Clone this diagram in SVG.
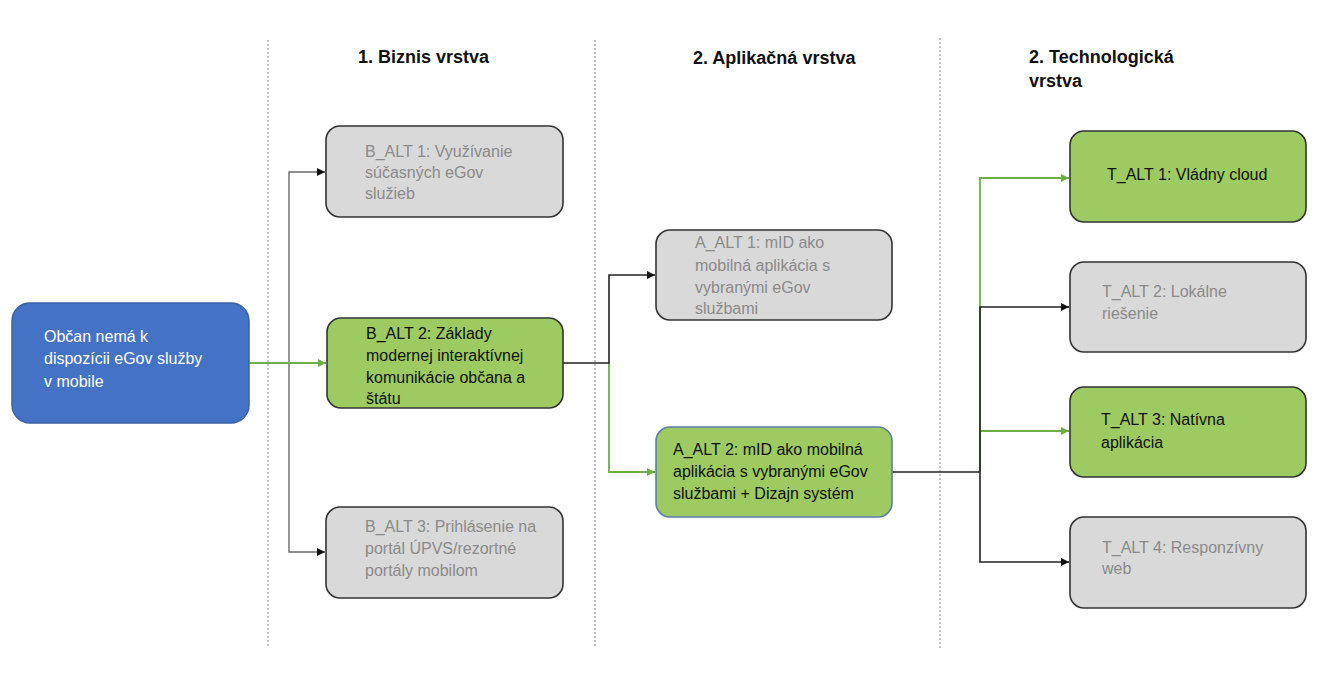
<svg xmlns="http://www.w3.org/2000/svg" width="1335" height="694" viewBox="0 0 1335 694">
  <style>
    .sep { stroke: #9a9a9a; stroke-width: 1.2; stroke-dasharray: 2 2; fill: none; }
    .hdr { font-family: "Liberation Sans", Arial, sans-serif; font-weight: bold; font-size: 18px; fill: #111; }
    .box { stroke: #333; stroke-width: 1.6; }
    .grey { fill: #d9d9d9; }
    .green { fill: #9dcb62; }
    .blue { fill: #4472c4; stroke: #3a62a8; stroke-width: 1.5; }
    .txt { font-family: "Liberation Sans", Arial, sans-serif; font-size: 16px; }
    .t-grey { fill: #8a8a8a; }
    .t-dark { fill: #111; }
    .t-white { fill: #fff; }
    .ln-grey { stroke: #6b6b6b; stroke-width: 1.4; fill: none; }
    .ln-dark { stroke: #222; stroke-width: 1.6; fill: none; }
    .ln-green { stroke: #70ad47; stroke-width: 1.8; fill: none; }
  </style>
  <defs>
    <marker id="arrow-dark" viewBox="0 0 10 10" refX="10" refY="5" markerWidth="8" markerHeight="8" markerUnits="userSpaceOnUse" orient="auto">
      <path d="M0,0 L10,5 L0,10 Z" fill="#111"/>
    </marker>
    <marker id="arrow-green" viewBox="0 0 10 10" refX="10" refY="5" markerWidth="8" markerHeight="8" markerUnits="userSpaceOnUse" orient="auto">
      <path d="M0,0 L10,5 L0,10 Z" fill="#70ad47"/>
    </marker>
  </defs>

  <rect width="1335" height="694" fill="#fff"/>

  <!-- layer separators -->
  <g id="separators">
    <line class="sep" x1="268" y1="40" x2="268" y2="648"/>
    <line class="sep" x1="595" y1="40" x2="595" y2="648"/>
    <line class="sep" x1="940" y1="38" x2="940" y2="648"/>
  </g>

  <!-- layer headers -->
  <g id="headers">
    <text class="hdr" x="358" y="63">1. Biznis vrstva</text>
    <text class="hdr" x="693" y="64">2. Aplikačná vrstva</text>
    <text class="hdr" x="1029" y="63">2. Technologická</text>
    <text class="hdr" x="1029" y="87">vrstva</text>
  </g>

  <!-- connectors -->
  <g id="connectors">
    <!-- problem to business alternatives -->
    <polyline class="ln-grey" points="289,363 289,172 325,172" marker-end="url(#arrow-dark)"/>
    <polyline class="ln-grey" points="289,363 289,552 325,552" marker-end="url(#arrow-dark)"/>
    <line class="ln-green" x1="249" y1="363" x2="326" y2="363" marker-end="url(#arrow-green)"/>

    <!-- business to application alternatives -->
    <polyline class="ln-green" points="609,363 609,472 655,472" marker-end="url(#arrow-green)"/>
    <polyline class="ln-dark" points="563,363 609,363 609,275 655,275" marker-end="url(#arrow-dark)"/>

    <!-- application to technology alternatives -->
    <polyline class="ln-green" points="980,472 980,178 1069,178" marker-end="url(#arrow-green)"/>
    <polyline class="ln-green" points="980,472 980,431 1069,431" marker-end="url(#arrow-green)"/>
    <polyline class="ln-dark" points="980,472 980,307 1069,307" marker-end="url(#arrow-dark)"/>
    <polyline class="ln-dark" points="980,472 980,562 1069,562" marker-end="url(#arrow-dark)"/>
    <line class="ln-dark" x1="892" y1="472" x2="980" y2="472"/>
  </g>

  <!-- problem statement -->
  <g id="problem">
    <rect class="blue" x="12" y="303" width="237" height="120" rx="18"/>
    <text class="txt t-white" x="44" y="342">Občan nemá k</text>
    <text class="txt t-white" x="44" y="364">dispozícii eGov služby</text>
    <text class="txt t-white" x="44" y="387">v mobile</text>
  </g>

  <!-- business layer -->
  <g id="b-alt-1">
    <rect class="box grey" x="326" y="126" width="237" height="91" rx="14"/>
    <text class="txt t-grey" x="365" y="157">B_ALT 1: Využívanie</text>
    <text class="txt t-grey" x="365" y="178">súčasných eGov</text>
    <text class="txt t-grey" x="365" y="199">služieb</text>
  </g>
  <g id="b-alt-2">
    <rect class="box green" x="327" y="318" width="236" height="90" rx="14"/>
    <text class="txt t-dark" x="366" y="339">B_ALT 2: Základy</text>
    <text class="txt t-dark" x="366" y="361">modernej interaktívnej</text>
    <text class="txt t-dark" x="366" y="383">komunikácie občana a</text>
    <text class="txt t-dark" x="366" y="404">štátu</text>
  </g>
  <g id="b-alt-3">
    <rect class="box grey" x="326" y="507" width="237" height="91" rx="14"/>
    <text class="txt t-grey" x="365" y="532">B_ALT 3: Prihlásenie na</text>
    <text class="txt t-grey" x="365" y="554">portál ÚPVS/rezortné</text>
    <text class="txt t-grey" x="365" y="576">portály mobilom</text>
  </g>

  <!-- application layer -->
  <g id="a-alt-1">
    <rect class="box grey" x="656" y="230" width="236" height="90" rx="14"/>
    <text class="txt t-grey" x="695" y="248">A_ALT 1: mID ako</text>
    <text class="txt t-grey" x="695" y="271">mobilná aplikácia s</text>
    <text class="txt t-grey" x="695" y="293">vybranými eGov</text>
    <text class="txt t-grey" x="695" y="314">službami</text>
  </g>
  <g id="a-alt-2">
    <rect x="656" y="427" width="236" height="90" rx="14" fill="#9dcb62" stroke="#5b7fa6" stroke-width="1.6"/>
    <text class="txt t-dark" x="673" y="455">A_ALT 2: mID ako mobilná</text>
    <text class="txt t-dark" x="673" y="477">aplikácia s vybranými eGov</text>
    <text class="txt t-dark" x="673" y="499">službami + Dizajn systém</text>
  </g>

  <!-- technology layer -->
  <g id="t-alt-1">
    <rect class="box green" x="1070" y="131" width="236" height="91" rx="14"/>
    <text class="txt t-dark" x="1107" y="180">T_ALT 1: Vládny cloud</text>
  </g>
  <g id="t-alt-2">
    <rect class="box grey" x="1070" y="262" width="236" height="90" rx="14"/>
    <text class="txt t-grey" x="1102" y="297">T_ALT 2: Lokálne</text>
    <text class="txt t-grey" x="1102" y="319">riešenie</text>
  </g>
  <g id="t-alt-3">
    <rect class="box green" x="1070" y="387" width="236" height="90" rx="14"/>
    <text class="txt t-dark" x="1101" y="425">T_ALT 3: Natívna</text>
    <text class="txt t-dark" x="1101" y="448">aplikácia</text>
  </g>
  <g id="t-alt-4">
    <rect class="box grey" x="1070" y="517" width="236" height="91" rx="14"/>
    <text class="txt t-grey" x="1102" y="553">T_ALT 4: Responzívny</text>
    <text class="txt t-grey" x="1102" y="574">web</text>
  </g>
</svg>
